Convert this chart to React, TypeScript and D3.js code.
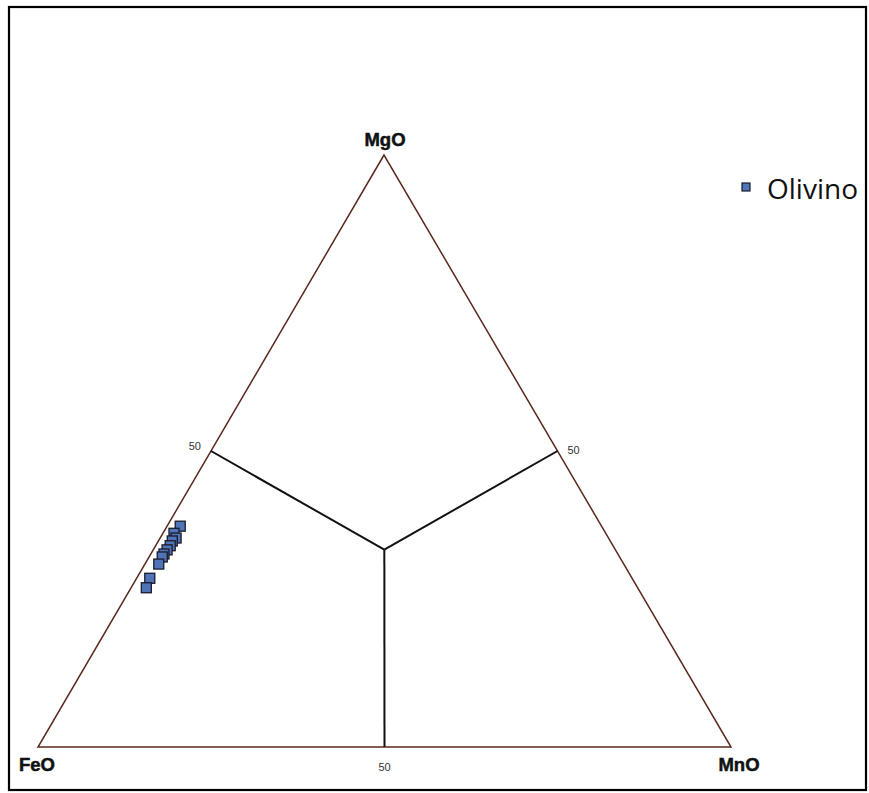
import React from "react";
import * as d3 from "d3";

// Olivine analyses, oxide proportions (%)
const mgO = [37.3, 36.1, 35.3, 34.8, 34.0, 33.3, 32.6, 32.1, 30.9, 28.5, 26.9];
const mnO = [1.9, 1.6, 2.3, 2.0, 2.1, 2.0, 1.9, 1.9, 2.0, 1.9, 2.2];
const feO = mgO.map((m, i) => 100 - m - mnO[i]);

const vertexLabels = ["MgO", "FeO", "MnO"];
const tickLabels = ["50", "50", "50"];
const seriesName = "Olivino";

const W = 869;
const H = 793;

// Triangle corners in page coordinates
const apex = { x: 384, y: 155 };
const left = { x: 38, y: 747 };
const right = { x: 731, y: 747 };

// Linear scales: MgO fraction drives height, MnO fraction drives the base offset
const yScale = d3.scaleLinear().domain([0, 100]).range([left.y, apex.y]);
const apexShift = d3.scaleLinear().domain([0, 100]).range([0, apex.x - left.x]);
const baseShift = d3.scaleLinear().domain([0, 100]).range([0, right.x - left.x]);

function project(mg: number, fe: number, mn: number) {
  const s = mg + fe + mn;
  const a = (mg / s) * 100;
  const c = (mn / s) * 100;
  return { x: left.x + apexShift(a) + baseShift(c), y: yScale(a) };
}

export default function App() {
  const center = project(100 / 3, 100 / 3, 100 / 3);
  const midLeft = project(50, 50, 0);
  const midRight = project(50, 0, 50);
  const midBase = project(0, 50, 50);
  const tri = d3.line<{ x: number; y: number }>().x((d) => d.x).y((d) => d.y);
  const pts = mgO.map((m, i) => project(m, feO[i], mnO[i]));
  const sz = 10;

  return (
    <svg
      width={W}
      height={H}
      style={{ position: "absolute", left: 0, top: 0, background: "#fff" }}
    >
      <rect x={9} y={7} width={W - 12} height={H - 10} fill="#fff" stroke="#000" strokeWidth={2.2} />
      <path
        d={tri([apex, left, right, apex]) + "Z"}
        fill="none"
        stroke="#5a2a1e"
        strokeWidth={1.5}
      />
      {[midLeft, midRight, midBase].map((m, i) => (
        <line key={i} x1={m.x} y1={m.y} x2={center.x} y2={center.y} stroke="#111" strokeWidth={2} />
      ))}
      <g fontFamily="Liberation Sans, Arial, sans-serif" fontSize={11} fill="#333">
        <text x={midLeft.x - 10} y={midLeft.y - 1} textAnchor="end">{tickLabels[0]}</text>
        <text x={midRight.x + 10} y={midRight.y + 3} textAnchor="start">{tickLabels[1]}</text>
        <text x={midBase.x} y={midBase.y + 24} textAnchor="middle">{tickLabels[2]}</text>
      </g>
      <g fontFamily="Liberation Sans, Arial, sans-serif" fontWeight="bold" fontSize={18.5} fill="#111" stroke="#111" strokeWidth={0.5}>
        <text x={apex.x + 1} y={apex.y - 9} textAnchor="middle">{vertexLabels[0]}</text>
        <text x={left.x - 1} y={left.y + 24} textAnchor="middle">{vertexLabels[1]}</text>
        <text x={right.x + 8} y={right.y + 24} textAnchor="middle">{vertexLabels[2]}</text>
      </g>
      {pts.map((p, i) => (
        <rect
          key={i}
          x={p.x - sz / 2}
          y={p.y - sz / 2}
          width={sz}
          height={sz}
          fill="#4f74b8"
          stroke="#1a1a2a"
          strokeWidth={1.3}
        />
      ))}
      <rect x={742} y={183} width={8} height={8} fill="#4f74b8" stroke="#1a1a2a" strokeWidth={1.2} />
      <text x={767} y={199} fontFamily="Open Sans, sans-serif" fontSize={28} fill="#111">{seriesName}</text>
    </svg>
  );
}
